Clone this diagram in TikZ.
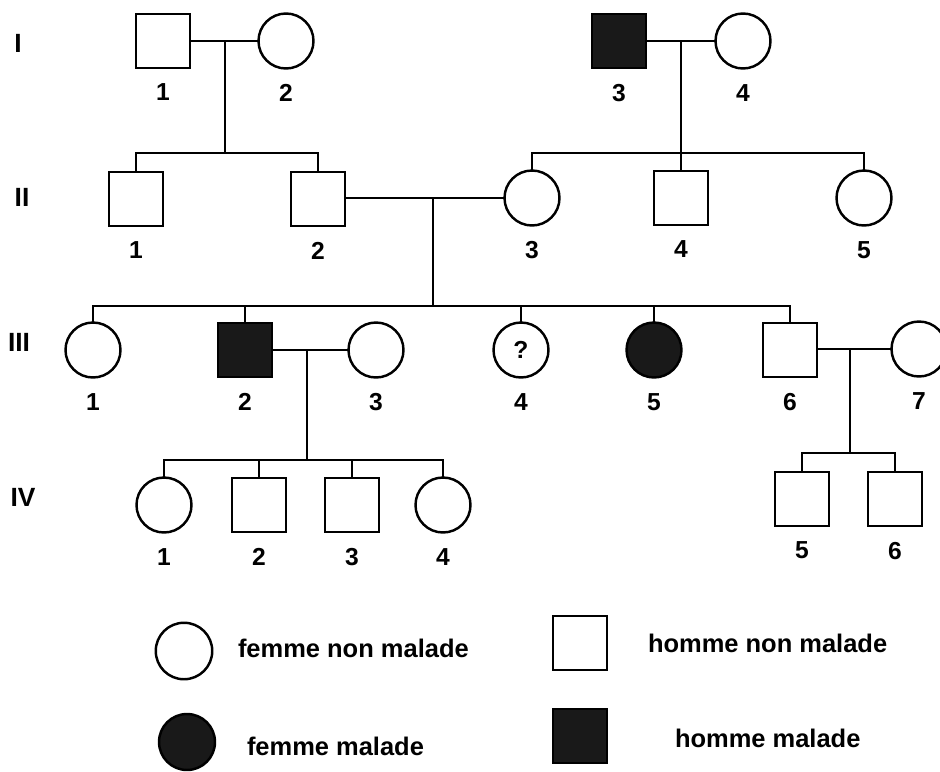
\documentclass[tikz,border=0pt]{standalone}
\usepackage{fontspec}
\setmainfont{Liberation Sans}
\usetikzlibrary{calc}

\begin{document}
\begin{tikzpicture}[
		x=0.02cm, y=-0.02cm,
		inner sep=0pt, outer sep=0pt,%
		male/.style={draw, line width=1.4pt, minimum size=1.08cm, fill=#1},
		male/.default=white,
		female/.style={circle, draw, line width=1.4pt, minimum size=1.1cm, fill=#1},
		female/.default=white,
		link/.style={line width=1pt},
		gen/.style={font=\fontsize{15}{15}\selectfont\bfseries},
		num/.style={font=\fontsize{14}{14}\selectfont\bfseries},
		every label/.style={num},
		label distance=0.32cm,
		legend/.style={font=\fontsize{14.5}{14.5}\selectfont\bfseries, anchor=west},
	]
		% Frame
		\useasboundingbox (0,0) rectangle (940,771);
		\colorlet{ill}{black!90}

		% Generation I
		\node[gen] (gI) at (18,43) {I};
		\node[male, label=below:1] (I1) at (163,41) {};
		\node[female, label=below:2] (I2) at (286,41) {};
		\node[male=ill, label=below:3] (I3) at (619,41) {};
		\node[female, label=below:4] (I4) at (743,41) {};

		% Generation II
		\node[gen] (gII) at (22,197) {II};
		\node[male, label=below:1] (II1) at (136,199) {};
		\node[male, label=below:2] (II2) at (318,199) {};
		\node[female, label=below:3] (II3) at (532,198) {};
		\node[male, label=below:4] (II4) at (681,198) {};
		\node[female, label=below:5] (II5) at (864,198) {};

		% Generation III
		\node[gen] (gIII) at (19,342) {III};
		\node[female, label=below:1] (III1) at (93,350) {};
		\node[male=ill, label=below:2] (III2) at (245,350) {};
		\node[female, label=below:3] (III3) at (376,350) {};
		\node[female, num, label=below:4] (III4) at (521,350) {?};
		\node[female=ill, label=below:5] (III5) at (654,350) {};
		\node[male, label=below:6] (III6) at (790,350) {};
		\node[female, label=below:7] (III7) at (919,349) {};

		% Generation IV
		\node[gen] (gIV) at (23,497) {IV};
		\node[female, label=below:1] (IV1) at (164,505) {};
		\node[male, label=below:2] (IV2) at (259,505) {};
		\node[male, label=below:3] (IV3) at (352,505) {};
		\node[female, label=below:4] (IV4) at (443,505) {};
		\node[male, label=below:5] (IV5) at (802,499) {};
		\node[male, label=below:6] (IV6) at (895,499) {};

		% Couples and children
		\coordinate (c12) at (225,41);
		\coordinate (s12) at (225,153);
		\draw[link] (I1) -- (I2);
		\draw[link] (c12) -- (s12);
		\draw[link] (II1) |- (s12) -| (II2);

		\coordinate (c34) at (681,41);
		\coordinate (s34) at (681,153);
		\draw[link] (I3) -- (I4);
		\draw[link] (c34) -- (II4);
		\draw[link] (II3) |- (s34) -| (II5);

		\coordinate (c23) at (433,198);
		\coordinate (s23) at (433,306);
		\draw[link] (II2.east |- c23) -- (II3);
		\draw[link] (c23) -- (s23);
		\draw[link] (III1) |- (s23) -| (III6);
		\foreach \k in {III2,III4,III5}
			\draw[link] (\k) -- (\k |- s23);

		\coordinate (c2p3) at (307,350);
		\coordinate (s2p3) at (307,460);
		\draw[link] (III2) -- (III3);
		\draw[link] (c2p3) -- (s2p3);
		\draw[link] (IV1) |- (s2p3) -| (IV4);
		\foreach \k in {IV2,IV3}
			\draw[link] (\k) -- (\k |- s2p3);

		\coordinate (c6p7) at (850,349);
		\coordinate (s6p7) at (850,453);
		\draw[link] (III6.east |- c6p7) -- (III7);
		\draw[link] (c6p7) -- (s6p7);
		\draw[link] (IV5) |- (s6p7) -| (IV6);

		% Legend
		\node[female, minimum size=1.13cm] (kF) at (184,651) {};
		\node[legend] (tF) at (238,648) {femme non malade};
		\node[male] (kM) at (580,643) {};
		\node[legend] (tM) at (648,643) {homme non malade};
		\node[female=ill, minimum size=1.12cm] (kFi) at (187,742) {};
		\node[legend] (tFi) at (247,746) {femme malade};
		\node[male=ill] (kMi) at (580,736) {};
		\node[legend] (tMi) at (675,738) {homme malade};
	\end{tikzpicture}
\end{document}
